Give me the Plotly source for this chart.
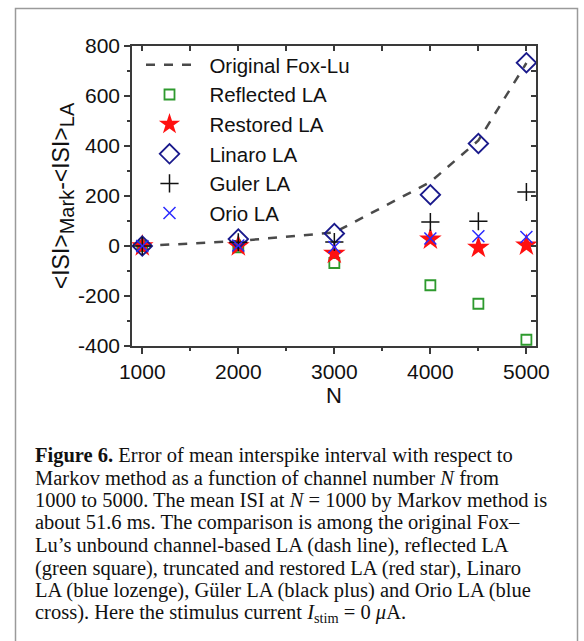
import plotly.graph_objects as go

# ---------------- data ----------------
N = [1000, 2000, 3000, 4000, 4500, 5000]
fox_lu = [0, 20, 54, 256, 422, 732]
reflected = [0, -5, -68, -157, -231, -375]
restored = [0, 0, -30, 27, -6, 3]
linaro = [0, 28, 50, 205, 410, 733]
guler = [0, 15, 16, 96, 99, 216]
orio = [0, 2, -4, 30, 39, 36]

series_names = ["Original Fox-Lu", "Reflected LA", "Restored LA", "Linaro LA", "Guler LA", "Orio LA"]
x_ticks = [1000, 2000, 3000, 4000, 5000]
y_ticks = [-400, -200, 0, 200, 400, 600, 800]
y_ticktext = ["-400", "-200", "0", "200", "400", "600", "800"]

caption_lines = [
    "<b>Figure 6.</b> Error of mean interspike interval with respect to",
    "Markov method as a function of channel number <i>N</i> from",
    "1000 to 5000. The mean ISI at <i>N</i> = 1000 by Markov method is",
    "about 51.6 ms. The comparison is among the original Fox–",
    "Lu’s unbound channel-based LA (dash line), reflected LA",
    "(green square), truncated and restored LA (red star), Linaro",
    "LA (blue lozenge), Güler LA (black plus) and Orio LA (blue",
    "cross). Here the stimulus current <i>I</i><sub>stim</sub> = 0 <i>μ</i>A.",
]

# ---------------- geometry ----------------
W, H = 584, 641
L, R, T, B = 132, 536, 46, 346
def px(xp):
    return (xp - L) / (R - L)
def py(yp):
    return (B - yp) / (B - T)

SANS = "Arial, Liberation Sans, sans-serif"
SERIF = "Liberation Serif, DejaVu Serif, serif"
AX = "#3a3a3a"
PAD = "\u00a0\u00a0"

fig = go.Figure()
fig.add_trace(go.Scatter(x=N, y=fox_lu, mode="lines", name=PAD + series_names[0],
                         line=dict(color="#4a4a4a", width=2.5, dash="dash")))
fig.add_trace(go.Scatter(x=N, y=reflected, mode="markers", name=PAD + series_names[1],
                         marker=dict(symbol="square-open", size=10, color="#2e9a2e", line=dict(width=1.8))))
fig.add_trace(go.Scatter(x=N, y=restored, mode="markers", name=PAD + series_names[2],
                         marker=dict(symbol="star", size=17, color="#ff1010", line=dict(width=0))))
fig.add_trace(go.Scatter(x=N, y=linaro, mode="markers", name=PAD + series_names[3],
                         marker=dict(symbol="diamond-open", size=15, color="#1a1a8c", line=dict(width=1.8))))
fig.add_trace(go.Scatter(x=N, y=guler, mode="markers", name=PAD + series_names[4],
                         marker=dict(symbol="cross-thin-open", size=13, color="#111111", line=dict(width=1.5))))
fig.add_trace(go.Scatter(x=N, y=orio, mode="markers", name=PAD + series_names[5],
                         marker=dict(symbol="x-thin-open", size=12, color="#2a2aff", line=dict(width=1.5))))
# dummy for mirrored axes
fig.add_trace(go.Scatter(x=[N[0]], y=[0], xaxis="x2", yaxis="y2", mode="markers",
                         marker=dict(opacity=0), showlegend=False, hoverinfo="skip"))

xr = [893, 5100]
yr = [-400, 800]
fig.update_layout(
    width=W, height=H,
    margin=dict(l=L, r=W - R, t=T, b=H - B),
    paper_bgcolor="white", plot_bgcolor="white",
    font=dict(family=SANS, size=21, color="#111111"),
    showlegend=True,
    legend=dict(x=px(141), y=py(45), xanchor="left", yanchor="top",
                bgcolor="rgba(0,0,0,0)", font=dict(size=20.5, family=SANS),
                itemwidth=47, tracegroupgap=0),
    xaxis=dict(range=xr, tickvals=x_ticks, showline=True, linecolor=AX, linewidth=1.5,
               ticks="outside", ticklen=6, tickwidth=1.5, tickcolor=AX,
               minor=dict(dtick=500, tick0=1000, ticks="outside", ticklen=3, tickcolor=AX, tickwidth=1.5),
               showgrid=False, zeroline=False,
               title=dict(text="N", font=dict(size=22), standoff=4)),
    yaxis=dict(range=yr, tickvals=y_ticks, ticktext=y_ticktext, showline=True, linecolor=AX, linewidth=1.5,
               ticks="outside", ticklen=6, tickwidth=1.5, tickcolor=AX,
               minor=dict(dtick=100, tick0=0, ticks="outside", ticklen=3, tickcolor=AX, tickwidth=1.5),
               showgrid=False, zeroline=False,
               title=dict(text="&lt;ISI&gt;<sub><span style='font-size:20px'>Mark</span></sub>-&lt;ISI&gt;<sub><span style='font-size:20px'>LA</span></sub>",
                          font=dict(size=23), standoff=2)),
    xaxis2=dict(range=xr, overlaying="x", side="top", showline=True, linecolor=AX, linewidth=1.5,
                tickvals=x_ticks, ticks="inside", ticklen=5, tickwidth=1.5, tickcolor=AX,
                minor=dict(dtick=500, tick0=1000, ticks="inside", ticklen=5, tickcolor=AX, tickwidth=1.5),
                showticklabels=False, showgrid=False, zeroline=False),
    yaxis2=dict(range=yr, overlaying="y", side="right", showline=True, linecolor=AX, linewidth=1.5,
                tickvals=y_ticks, ticks="inside", ticklen=5, tickwidth=1.5, tickcolor=AX,
                minor=dict(dtick=100, tick0=0, ticks="inside", ticklen=5, tickcolor=AX, tickwidth=1.5),
                showticklabels=False, showgrid=False, zeroline=False),
)

# outer frame
fig.add_shape(type="rect", xref="paper", yref="paper",
              x0=px(15.5), x1=px(577.5), y0=py(660), y1=py(8.5),
              line=dict(color="#9a9a9a", width=1.5), fillcolor="rgba(0,0,0,0)", layer="below")

# caption
y0 = 455
for i, line in enumerate(caption_lines):
    fig.add_annotation(x=px(33), y=py(y0 + i * 22.6), xref="paper", yref="paper",
                       text=line, showarrow=False, xanchor="left", yanchor="middle",
                       align="left", font=dict(family=SERIF, size=20.5, color="#111111"))

fig.write_html("out.html")
